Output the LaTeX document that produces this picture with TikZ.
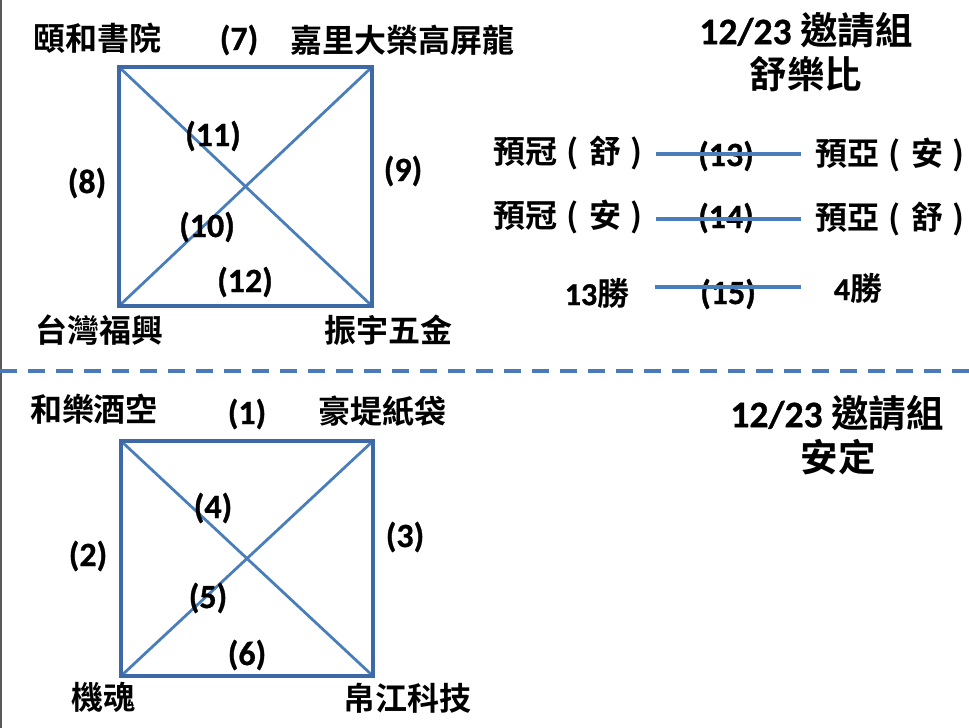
\documentclass[tikz,border=0pt]{standalone}
\usepackage{fontspec}
\setmainfont{Carlito}[BoldFont={Carlito Bold}]
\newfontfamily\numfont{Carlito Bold}[FakeBold=0.8]
\newfontfamily\cjk{Noto Sans CJK TC Bold}
\newcommand\cc[1]{\makebox[1.0em][c]{#1}}
\definecolor{edge}{HTML}{3D69A6}
\definecolor{diag}{HTML}{4A7EBB}
\definecolor{sep}{HTML}{4A7AB8}
\begin{document}
\begin{tikzpicture}[x=1pt,y=-1pt,
  lab/.style={font=\cjk\fontsize{32}{38}\selectfont, inner sep=0pt, anchor=center},
  num/.style={font=\numfont\fontsize{34}{40}\selectfont, inner sep=0pt, anchor=center},
  ttl/.style={font=\numfont\fontsize{37.5}{44}\selectfont, inner sep=0pt, anchor=center},
  sq/.style={draw=edge, line width=3.8pt},
  dg/.style={draw=diag, line width=2.8pt},
  hl/.style={draw=diag, line width=3.8pt}]
\useasboundingbox (0,0) rectangle (969,728);
\fill[white] (0,0) rectangle (969,728);
\draw[draw=black!65, line width=2pt] (1,0) -- (1,728);
% separator
\coordinate (sepL) at (0,371);
\coordinate (sepR) at (969,371);
\draw[sep, line width=3.8pt, dash pattern=on 17pt off 11pt] (sepL) -- (sepR);

% ---------- top square ----------
\coordinate (A) at (119,67);
\coordinate (B) at (372,67);
\coordinate (C) at (372,306);
\coordinate (D) at (119,306);
\draw[dg] (A) -- (C);
\draw[dg] (B) -- (D);
\draw[sq, line join=miter] (A) -- (B) -- (C) -- (D) -- cycle;

\node[lab] (t1) at (97,38) {頤和書院};
\node[lab] (t2) at (402,40) {嘉里大榮高屏龍};
\node[lab] (t3) at (99,330) {台灣福興};
\node[lab] (t4) at (388,330) {振宇五金};
\node[num] (n7) at (239,40) {(7)};
\node[num] (n8) at (87,183) {(8)};
\node[num] (n9) at (403,171) {(9)};
\node[num] (n10) at (207,227) {(10)};
\node[num] (n11) at (213,136) {(11)};
\node[num] (n12) at (245,282) {(12)};

\node[ttl] (ttop) at (806,30) {12/23 {\cjk 邀請組}};
\node[ttl] (ttop2) at (806,74) {{\cjk 舒樂比}};

% finals
\node[lab] (r1l) at (573,153) {\cc{預}\cc{冠}\cc{(}\cc{舒}\cc{)}};
\node[lab] (r1r) at (895,155) {\cc{預}\cc{亞}\cc{(}\cc{安}\cc{)}};
\node[lab] (r2l) at (573,217) {\cc{預}\cc{冠}\cc{(}\cc{安}\cc{)}};
\node[lab] (r2r) at (895,219) {\cc{預}\cc{亞}\cc{(}\cc{舒}\cc{)}};
\node[lab] (r3l) at (597,293) {{\numfont 13}勝};
\node[lab] (r3r) at (858,288) {{\numfont 4}勝};
\node[num] (n13) at (726,156) {(13)};
\node[num] (n14) at (726,218) {(14)};
\node[num] (n15) at (728,294) {(15)};
\coordinate (l1a) at (656,154); \coordinate (l1b) at (801,154);
\coordinate (l2a) at (656,219); \coordinate (l2b) at (801,219);
\coordinate (l3a) at (655,287); \coordinate (l3b) at (801,287);
\draw[hl] (l1a) -- (l1b);
\draw[hl] (l2a) -- (l2b);
\draw[hl] (l3a) -- (l3b);

% ---------- bottom square ----------
\coordinate (E) at (121,441);
\coordinate (F) at (373,441);
\coordinate (G) at (373,676);
\coordinate (H) at (121,676);
\draw[dg] (E) -- (G);
\draw[dg] (F) -- (H);
\draw[sq, line join=miter] (E) -- (F) -- (G) -- (H) -- cycle;

\node[lab] (b1) at (94,409) {和樂酒空};
\node[lab] (b2) at (382,411) {豪堤紙袋};
\node[lab] (b3) at (103,697) {機魂};
\node[lab] (b4) at (407,698) {帛江科技};
\node[num] (n1) at (247,414) {(1)};
\node[num] (n2) at (88,556) {(2)};
\node[num] (n3) at (405,537) {(3)};
\node[num] (n4) at (213,508) {(4)};
\node[num] (n5) at (208,598) {(5)};
\node[num] (n6) at (247,655) {(6)};

\node[ttl] (tbot) at (837,413) {12/23 {\cjk 邀請組}};
\node[ttl] (tbot2) at (838,457) {{\cjk 安定}};
\end{tikzpicture}
\end{document}
